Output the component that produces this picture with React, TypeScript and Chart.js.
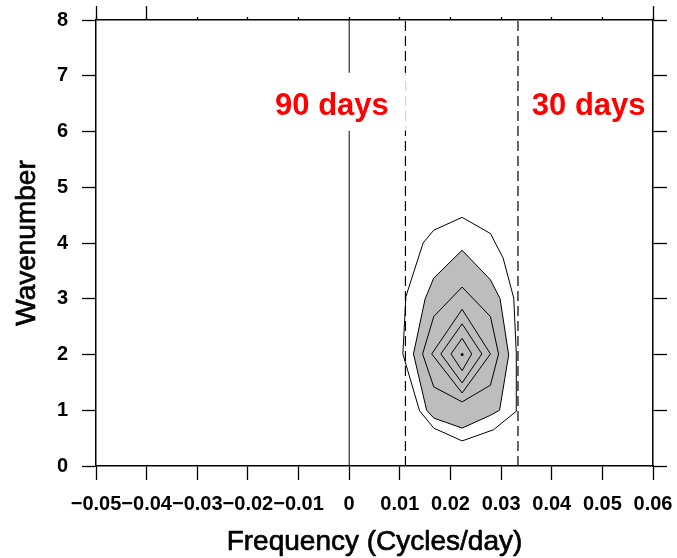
import { useEffect, useRef } from 'react';
import { Chart, registerables } from 'chart.js';

Chart.register(...registerables);

// Axis ranges (frequency in cycles/day, zonal wavenumber)
const freqMin = -0.05;
const freqMax = 0.06;
const freqStep = 0.01;
const wnMin = 0;
const wnMax = 8;
const wnStep = 1;

const xTitle = 'Frequency (Cycles/day)';
const yTitle = 'Wavenumber';

// Reference periods marked by dashed lines
const periodDays = [90, 30];
const periodLabels = ['90 days', '30 days'];
const periodLabelFreq = [-0.0034, 0.0473];
const periodLabelWn = [6.3, 6.3];

// Closed contours as [frequency, wavenumber] vertices, outermost first
const contourLevel1: [number, number][] = [
  [0.0223, 4.46], [0.0167, 4.23], [0.0146, 4.0], [0.0112, 3.04], [0.0106, 2.01],
  [0.0139, 0.99], [0.0167, 0.68], [0.0223, 0.45], [0.0285, 0.65], [0.0331, 0.99],
  [0.033, 2.02], [0.0325, 3.01], [0.0304, 3.73], [0.0279, 4.17],
];
const contourLevel2: [number, number][] = [
  [0.0223, 3.87], [0.0167, 3.37], [0.015, 3.0], [0.0127, 2.01], [0.0153, 1.0],
  [0.0167, 0.86], [0.0223, 0.68], [0.0279, 0.91], [0.0297, 1.0], [0.0315, 1.99],
  [0.0298, 3.0], [0.0279, 3.34],
];
const contourLevel3: [number, number][] = [
  [0.0223, 3.21], [0.0167, 2.68], [0.0145, 2.01], [0.0167, 1.42], [0.0223, 1.15],
  [0.0279, 1.45], [0.0295, 2.01], [0.0279, 2.68],
];
const contourLevel4: [number, number][] = [
  [0.0223, 2.81], [0.0163, 2.01], [0.0223, 1.31], [0.0279, 2.01],
];
const contourLevel5: [number, number][] = [
  [0.0223, 2.55], [0.0181, 2.01], [0.0223, 1.49], [0.0262, 2.01],
];
const contourLevel6: [number, number][] = [
  [0.0223, 2.29], [0.0201, 2.01], [0.0223, 1.71], [0.0242, 2.01],
];
const peakPoint: [number, number] = [0.0223, 2.0];

const FONT = '"Liberation Sans", Arial, Helvetica, sans-serif';

const closed = (pts: [number, number][]) =>
  [...pts, pts[0]].map(([x, y]) => ({ x, y }));

const sameValue = (a: number, b: number) => Math.abs(a - b) < 1e-9;

const formatFreq = (v: number | string) => {
  const n = Number(v);
  if (sameValue(n, 0)) return '0';
  return n.toFixed(2).replace('-', '\u2212');
};

// Red period annotations; the first one sits on a white box
const periodLabelPlugin = {
  id: 'periodLabels',
  afterDatasetsDraw(chart: any) {
    const { ctx, scales } = chart;
    const xs = scales.x;
    const ys = scales.y;
    ctx.save();
    ctx.font = `bold 31px ${FONT}`;
    ctx.textAlign = 'center';
    ctx.textBaseline = 'alphabetic';
    periodLabels.forEach((text, i) => {
      const px = xs.getPixelForValue(periodLabelFreq[i]);
      const py = ys.getPixelForValue(periodLabelWn[i]);
      const w = ctx.measureText(text).width;
      if (i === 0) {
        ctx.fillStyle = '#ffffff';
        ctx.fillRect(px - w / 2 - 17, py - 42, w + 34, 58);
      }
      ctx.fillStyle = '#ff0000';
      ctx.fillText(text, px, py);
    });
    ctx.restore();
  },
};

// Axis titles in a slightly heavier weight than the regular face
const axisTitlePlugin = {
  id: 'axisTitles',
  afterDraw(chart: any) {
    const { ctx, chartArea } = chart;
    ctx.save();
    ctx.font = `28px ${FONT}`;
    ctx.fillStyle = '#000';
    ctx.strokeStyle = '#000';
    ctx.lineWidth = 0.7;
    ctx.lineJoin = 'round';
    ctx.textAlign = 'center';
    ctx.textBaseline = 'alphabetic';
    const cx = (chartArea.left + chartArea.right) / 2;
    ctx.fillText(xTitle, cx, 550);
    ctx.strokeText(xTitle, cx, 550);
    const cy = (chartArea.top + chartArea.bottom) / 2;
    ctx.translate(35, cy);
    ctx.rotate(-Math.PI / 2);
    ctx.fillText(yTitle, 0, 0);
    ctx.strokeText(yTitle, 0, 0);
    ctx.restore();
  },
};

export default function App() {
  const canvasRef = useRef<HTMLCanvasElement | null>(null);

  useEffect(() => {
    if (!canvasRef.current) return;
    Chart.defaults.font.family = FONT;

    const lineSet = (label: string, data: { x: number; y: number }[], extra: any = {}) => ({
      label,
      data,
      showLine: true,
      borderColor: '#000',
      borderWidth: 1,
      pointRadius: 0,
      tension: 0,
      fill: false,
      xAxisID: 'x',
      yAxisID: 'y',
      ...extra,
    });

    const frameGrid = (len: number) => ({
      drawOnChartArea: false,
      drawTicks: true,
      tickLength: len,
      tickColor: '#000',
      tickWidth: 1.3,
    });
    const frameBorder = { display: true, color: '#000', width: 1.5 };
    const tickFont = { size: 20, weight: 'bold' };

    const chart = new Chart(canvasRef.current, {
      type: 'scatter',
      data: {
        datasets: [
          lineSet('level1', closed(contourLevel1), { order: 6 }),
          lineSet('level2', closed(contourLevel2), {
            order: 5,
            fill: 'shape',
            backgroundColor: 'rgb(189,189,189)',
          }),
          lineSet('level3', closed(contourLevel3), { order: 4 }),
          lineSet('level4', closed(contourLevel4), { order: 4 }),
          lineSet('level5', closed(contourLevel5), { order: 4 }),
          lineSet('level6', closed(contourLevel6), { order: 4 }),
          {
            label: 'peak',
            data: [{ x: peakPoint[0], y: peakPoint[1] }],
            showLine: false,
            pointRadius: 1.5,
            pointBorderWidth: 0,
            pointBackgroundColor: '#000',
            xAxisID: 'x',
            yAxisID: 'y',
            order: 3,
          },
          lineSet('zero', [{ x: 0, y: wnMin }, { x: 0, y: wnMax }], { order: 2 }),
          ...periodDays.map((d) =>
            lineSet(`${d} days`, [{ x: 1 / d, y: wnMin }, { x: 1 / d, y: wnMax }], {
              order: 1,
              borderWidth: 1.2,
              borderDash: [10, 5],
            })
          ),
        ],
      },
      options: {
        animation: false,
        responsive: false,
        devicePixelRatio: 1,
        events: [],
        layout: { padding: { top: 20, right: 24, left: 0, bottom: 0 } },
        plugins: { legend: { display: false }, tooltip: { enabled: false } },
        scales: {
          x: {
            type: 'linear',
            position: 'bottom',
            min: freqMin,
            max: freqMax,
            ticks: {
              stepSize: freqStep,
              color: '#000',
              font: tickFont,
              padding: 12,
              maxRotation: 0,
              autoSkip: false,
              callback: formatFreq,
            },
            grid: frameGrid(14),
            border: frameBorder,
            afterFit: (s: any) => {
              s.height = 92;
              s.paddingLeft = 0;
              s.paddingRight = 0;
            },
          },
          xTop: {
            type: 'linear',
            position: 'top',
            min: freqMin,
            max: freqMax,
            ticks: { stepSize: freqStep, display: false },
            grid: frameGrid(3),
            border: frameBorder,
            afterFit: (s: any) => {
              s.height = 0;
              s.paddingLeft = 0;
              s.paddingRight = 0;
            },
          },
          xTopLong: {
            type: 'linear',
            position: 'top',
            min: freqMin,
            max: freqMax,
            ticks: { stepSize: freqStep, display: false },
            grid: frameGrid(14),
            border: { display: false },
            afterBuildTicks: (s: any) => {
              s.ticks = s.ticks.filter((t: any) =>
                [freqMin, freqMin + freqStep, freqMax].some((v) => sameValue(t.value, v))
              );
            },
            afterFit: (s: any) => {
              s.height = 0;
              s.paddingLeft = 0;
              s.paddingRight = 0;
            },
          },
          y: {
            type: 'linear',
            position: 'left',
            min: wnMin,
            max: wnMax,
            ticks: {
              stepSize: wnStep,
              color: '#000',
              font: tickFont,
              padding: 14,
            },
            grid: frameGrid(14),
            border: frameBorder,
            afterFit: (s: any) => {
              s.width = 96;
              s.paddingTop = 0;
              s.paddingBottom = 0;
            },
          },
          y2: {
            type: 'linear',
            position: 'right',
            min: wnMin,
            max: wnMax,
            ticks: { stepSize: wnStep, display: false },
            grid: frameGrid(14),
            border: frameBorder,
            afterFit: (s: any) => {
              s.width = 0;
              s.paddingTop = 0;
              s.paddingBottom = 0;
            },
          },
        },
      } as any,
      plugins: [periodLabelPlugin, axisTitlePlugin],
    });

    return () => chart.destroy();
  }, []);

  return (
    <div style={{ position: 'fixed', left: 0, top: 0, width: 677, height: 558, background: '#fff' }}>
      <canvas ref={canvasRef} width={677} height={558} style={{ display: 'block' }} />
    </div>
  );
}
